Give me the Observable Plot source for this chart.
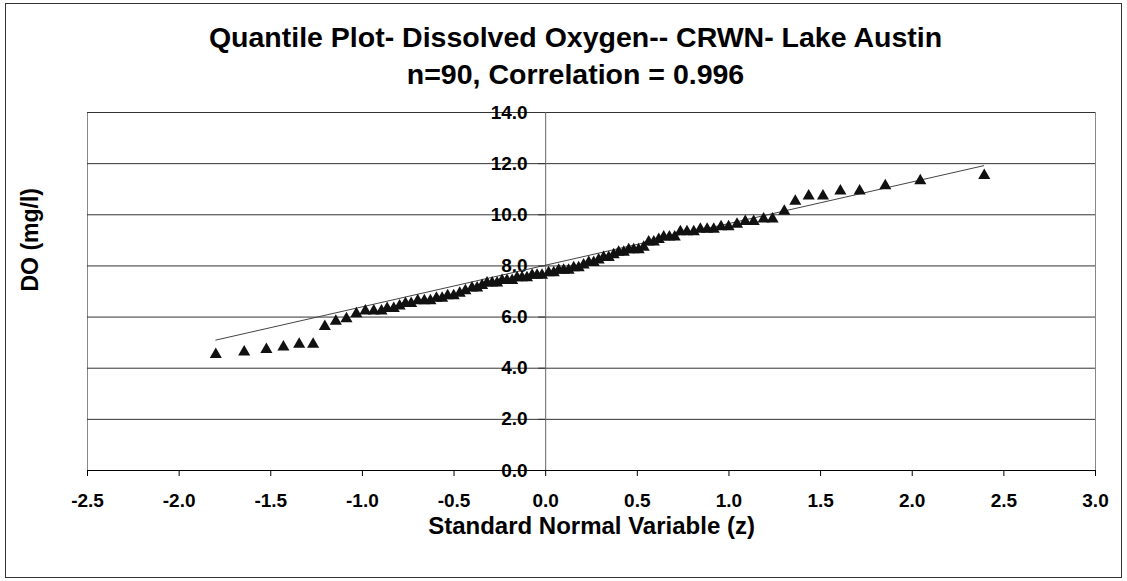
<!DOCTYPE html>
<html>
<head>
<meta charset="utf-8">
<script src="https://cdn.jsdelivr.net/npm/d3@7"></script>
<script src="https://cdn.jsdelivr.net/npm/@observablehq/plot@0.6"></script>
<style>
  html, body { margin: 0; padding: 0; background: #fff; }
  #wrap { position: relative; width: 1127px; height: 581px; }
  #border { position: absolute; left: 5px; top: 3px; width: 1115px; height: 573px; border: 1px solid #333; pointer-events: none; }
</style>
</head>
<body>
<div id="wrap"><div id="border"></div></div>
<script>
const titleLine1 = "Quantile Plot- Dissolved Oxygen-- CRWN- Lake Austin";
const titleLine2 = "n=90, Correlation = 0.996";
const xTitle = "Standard Normal Variable (z)";
const yTitle = "DO (mg/l)";

const xTicks = [-2.5, -2.0, -1.5, -1.0, -0.5, 0.0, 0.5, 1.0, 1.5, 2.0, 2.5, 3.0];
const yTicks = [0, 2, 4, 6, 8, 10, 12, 14];

const zScores = [
  -1.800, -1.645, -1.524, -1.431, -1.345, -1.269, -1.205, -1.145, -1.087, -1.033,
  -0.984, -0.938, -0.896, -0.865, -0.829, -0.797, -0.765, -0.734, -0.698, -0.662,
  -0.629, -0.596, -0.565, -0.535, -0.502, -0.469, -0.438, -0.402, -0.374, -0.347,
  -0.320, -0.292, -0.265, -0.238, -0.211, -0.183, -0.156, -0.129, -0.102, -0.074,
  -0.047, -0.020, 0.016, 0.044, 0.071, 0.098, 0.125, 0.153, 0.180, 0.207,
  0.235, 0.262, 0.289, 0.316, 0.344, 0.371, 0.398, 0.426, 0.453, 0.480,
  0.507, 0.535, 0.562, 0.590, 0.617, 0.644, 0.675, 0.704, 0.735, 0.771,
  0.808, 0.844, 0.881, 0.917, 0.957, 0.998, 1.044, 1.089, 1.135, 1.189,
  1.238, 1.302, 1.362, 1.435, 1.513, 1.608, 1.713, 1.853, 2.044, 2.393
];
const doValues = [
  4.6, 4.7, 4.8, 4.9, 5.0, 5.0, 5.7, 5.9, 6.0, 6.2,
  6.3, 6.3, 6.3, 6.4, 6.4, 6.5, 6.6, 6.6, 6.7, 6.7,
  6.7, 6.8, 6.8, 6.9, 6.9, 7.0, 7.1, 7.2, 7.2, 7.3,
  7.4, 7.4, 7.4, 7.5, 7.5, 7.5, 7.6, 7.6, 7.6, 7.7,
  7.7, 7.7, 7.8, 7.8, 7.9, 7.9, 7.9, 8.0, 8.0, 8.1,
  8.2, 8.2, 8.3, 8.4, 8.4, 8.5, 8.6, 8.6, 8.7, 8.7,
  8.7, 8.8, 9.0, 9.0, 9.1, 9.2, 9.2, 9.2, 9.4, 9.4,
  9.4, 9.5, 9.5, 9.5, 9.6, 9.6, 9.7, 9.8, 9.8, 9.9,
  9.9, 10.2, 10.6, 10.8, 10.8, 11.0, 11.0, 11.2, 11.4, 11.6
];

const fitZ = [-1.80, 2.39];
const fitDO = [5.10, 11.92];

const points = zScores.map((z, i) => ({z, v: doValues[i]}));
const fit = fitZ.map((z, i) => ({z, v: fitDO[i]}));

const font = "'Liberation Sans', Arial, sans-serif";

const chart = Plot.plot({
  width: 1127,
  height: 581,
  marginLeft: 87,
  marginRight: 32,
  marginTop: 112,
  marginBottom: 111,
  style: {fontFamily: font, background: "transparent", color: "#000", overflow: "visible"},
  x: {domain: [-2.5, 3.0], axis: null},
  y: {domain: [0, 14], axis: null},
  marks: [
    Plot.frame({stroke: "#888"}),
    Plot.ruleY(yTicks, {stroke: "#333", strokeWidth: 1}),
    Plot.ruleX([0], {stroke: "#666", strokeWidth: 1}),
    Plot.ruleY(yTicks, {x1: -0.038, x2: 0, stroke: "#333"}),
    Plot.text(yTicks, {x: 0, y: d => d, text: d => d.toFixed(1), textAnchor: "end", dx: -18, fontSize: 19, fontWeight: "bold"}),
    Plot.ruleY([0], {stroke: "#000", strokeWidth: 1.2}),
    Plot.axisX(xTicks, {anchor: "bottom", tickSize: 6, tickPadding: 17, tickFormat: d => d.toFixed(1), fontSize: 19, fontWeight: "bold", label: null, stroke: "#000"}),
    Plot.line(fit, {x: "z", y: "v", stroke: "#444", strokeWidth: 1}),
    Plot.dot(points, {x: "z", y: "v", symbol: "triangle", r: 4.5, fill: "#111", stroke: "none", dy: 1.7}),
    Plot.text([titleLine1], {frameAnchor: "top", dx: -16, dy: -75, fontSize: 28.5, fontWeight: "bold", lineAnchor: "middle"}),
    Plot.text([titleLine2], {frameAnchor: "top", dx: -16, dy: -38, fontSize: 28.5, fontWeight: "bold", lineAnchor: "middle"}),
    Plot.text([xTitle], {frameAnchor: "bottom", dy: 56, fontSize: 24, fontWeight: "bold", lineAnchor: "middle"}),
    Plot.text([yTitle], {frameAnchor: "left", dx: -57, rotate: -90, fontSize: 23, fontWeight: "bold", lineAnchor: "middle"})
  ]
});
document.getElementById("wrap").prepend(chart);
</script>
</body>
</html>
